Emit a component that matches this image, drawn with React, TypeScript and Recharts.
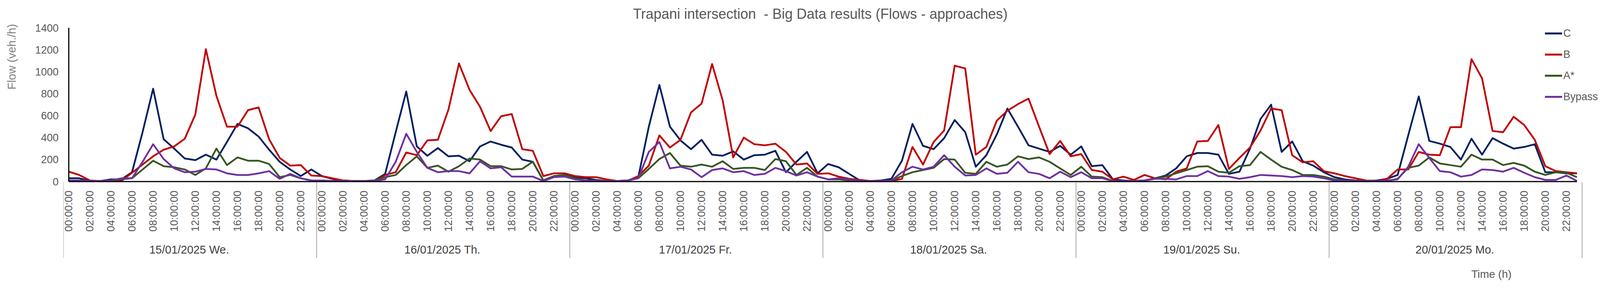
import { LineChart, Line, XAxis, YAxis } from "recharts";

const FONT = "'Liberation Sans', Arial, sans-serif";

const DAYS = ["15/01/2025 We.", "16/01/2025 Th.", "17/01/2025 Fr.", "18/01/2025 Sa.", "19/01/2025 Su.", "20/01/2025 Mo."];

const HOURS = [
  "00:00:00", "01:00:00", "02:00:00", "03:00:00", "04:00:00", "05:00:00",
  "06:00:00", "07:00:00", "08:00:00", "09:00:00", "10:00:00", "11:00:00",
  "12:00:00", "13:00:00", "14:00:00", "15:00:00", "16:00:00", "17:00:00",
  "18:00:00", "19:00:00", "20:00:00", "21:00:00", "22:00:00", "23:00:00",
];

const Y_TICKS = [0, 200, 400, 600, 800, 1000, 1200, 1400];

// one row per day, 24 hourly values (veh./h)
const C_FLOW = [
  [30, 30, 5, 5, 20, 20, 85, 450, 845, 385, 300, 210, 195, 245, 200, 360, 525, 485, 410, 290, 180, 110, 50, 110],
  [50, 25, 10, 5, 5, 10, 70, 450, 820, 320, 235, 305, 230, 235, 185, 320, 365, 335, 310, 200, 180, 10, 50, 60],
  [40, 30, 15, 5, 5, 10, 40, 500, 880, 500, 375, 295, 380, 245, 235, 275, 200, 240, 245, 280, 85, 180, 270, 75],
  [160, 130, 70, 10, 5, 10, 25, 190, 525, 325, 295, 395, 560, 450, 135, 240, 430, 665, 500, 330, 300, 270, 325, 245],
  [320, 140, 150, 20, 10, 5, 10, 30, 55, 120, 230, 260, 260, 245, 70, 90, 300, 570, 700, 270, 365, 185, 145, 85],
  [40, 20, 10, 5, 10, 25, 60, 420, 775, 370, 345, 315, 200, 390, 245, 395, 345, 300, 315, 340, 85, 85, 75, 75],
];

const B_FLOW = [
  [90, 60, 10, 5, 5, 5, 80, 155, 230, 290, 320, 390, 610, 1205, 780, 500, 500, 650, 675, 385, 215, 145, 150, 55],
  [50, 30, 10, 5, 5, 5, 60, 85, 265, 240, 375, 380, 655, 1075, 835, 680, 460, 595, 615, 295, 280, 50, 75, 75],
  [50, 40, 40, 20, 5, 5, 50, 145, 420, 310, 380, 630, 710, 1070, 740, 220, 400, 340, 330, 345, 270, 155, 165, 70],
  [75, 45, 25, 15, 5, 5, 5, 25, 315, 155, 360, 465, 1055, 1030, 245, 315, 555, 645, 705, 755, 500, 250, 370, 230],
  [250, 105, 90, 20, 45, 15, 60, 30, 20, 90, 120, 365, 370, 515, 115, 215, 310, 465, 665, 650, 240, 175, 185, 95],
  [75, 50, 30, 10, 5, 25, 110, 110, 270, 245, 240, 495, 495, 1115, 940, 460, 450, 590, 515, 380, 140, 95, 85, 75],
];

const A_FLOW = [
  [10, 10, 5, 5, 10, 20, 30, 110, 190, 140, 130, 110, 60, 120, 300, 150, 220, 190, 190, 160, 40, 60, 30, 10],
  [10, 5, 5, 5, 5, 10, 40, 60, 150, 230, 125, 145, 90, 140, 210, 200, 140, 140, 110, 115, 180, 10, 50, 60],
  [30, 10, 10, 5, 5, 10, 30, 115, 205, 260, 145, 135, 155, 135, 185, 115, 125, 125, 105, 205, 185, 60, 125, 45],
  [20, 20, 10, 5, 5, 5, 10, 50, 85, 105, 125, 205, 200, 80, 70, 180, 135, 155, 230, 205, 220, 180, 120, 60],
  [135, 45, 40, 5, 5, 5, 10, 30, 45, 75, 105, 135, 140, 90, 80, 140, 150, 270, 200, 135, 105, 60, 60, 45],
  [20, 10, 5, 5, 5, 5, 25, 125, 145, 220, 165, 150, 135, 245, 200, 200, 150, 170, 145, 90, 60, 85, 80, 40],
];

const BYPASS_FLOW = [
  [10, 10, 5, 5, 10, 30, 30, 180, 340, 205, 120, 85, 90, 115, 110, 75, 60, 60, 75, 95, 25, 70, 30, 10],
  [10, 5, 5, 5, 5, 5, 20, 180, 435, 270, 125, 85, 95, 95, 75, 185, 120, 130, 45, 45, 45, 5, 40, 45],
  [20, 10, 5, 5, 5, 10, 30, 270, 360, 120, 135, 110, 40, 105, 120, 85, 95, 60, 70, 125, 95, 55, 85, 45],
  [20, 30, 20, 5, 5, 5, 10, 85, 135, 110, 135, 240, 135, 55, 60, 120, 70, 80, 180, 85, 70, 30, 90, 40],
  [85, 30, 30, 5, 5, 5, 10, 25, 25, 20, 50, 50, 95, 50, 45, 25, 40, 60, 55, 50, 40, 50, 45, 30],
  [10, 10, 5, 5, 5, 10, 20, 135, 340, 215, 95, 85, 45, 60, 110, 105, 90, 125, 80, 40, 15, 15, 55, 5],
];

const SERIES = [
  { key: "C", name: "C", color: "#002060" },
  { key: "B", name: "B", color: "#C00000" },
  { key: "A", name: "A*", color: "#375623" },
  { key: "Bypass", name: "Bypass", color: "#7030A0" },
];

const data = DAYS.flatMap((_, d) =>
  HOURS.map((_, h) => ({
    slot: d * 24 + h,
    C: C_FLOW[d][h],
    B: B_FLOW[d][h],
    A: A_FLOW[d][h],
    Bypass: BYPASS_FLOW[d][h],
  }))
);

const W = 4132;
const H = 736;
const MARGIN = { top: 71, right: 95, bottom: 242, left: 116 };
const PLOT_W = W - 176 - MARGIN.right;
const BAND = PLOT_W / data.length;

function TimeTick(props: any) {
  const { x, y, payload } = props;
  const slot = Number(payload.value);
  const hour = slot % 24;
  const day = Math.floor(slot / 24);
  const edge = x - BAND / 2;
  const isLast = slot === data.length - 2;
  return (
    <g>
      <text
        transform={`translate(${x},${y + 23}) rotate(-90)`}
        textAnchor="end"
        dominantBaseline="central"
        fontSize={27}
        fontFamily={FONT}
        fill="#595959"
      >
        {HOURS[hour]}
      </text>
      {hour === 0 && (
        <>
          <line x1={edge} x2={edge} y1={y + 2} y2={y + 195} stroke={slot === 0 ? "#d0d0d0" : "#a6a6a6"} strokeWidth={2} />
          <text
            x={edge + 12 * BAND}
            y={y + 174}
            textAnchor="middle"
            dominantBaseline="central"
            fontSize={29}
            fontFamily={FONT}
            fill="#404040"
          >
            {DAYS[day]}
          </text>
        </>
      )}
      {isLast && (
        <line x1={x + 1.5 * BAND} x2={x + 1.5 * BAND} y1={y + 2} y2={y + 195} stroke="#a6a6a6" strokeWidth={2} />
      )}
    </g>
  );
}

function LegendBox() {
  return (
    <div style={{ position: "absolute", left: 3955, top: 58, fontFamily: FONT, whiteSpace: "nowrap" }}>
      {SERIES.map((s) => (
        <div key={s.key} style={{ display: "flex", alignItems: "center", height: 54 }}>
          <div style={{ width: 44, height: 5, background: s.color, flex: "none" }} />
          <span style={{ fontSize: 27, color: "#595959", marginLeft: 3, lineHeight: "30px" }}>{s.name}</span>
        </div>
      ))}
    </div>
  );
}

export default function App() {
  return (
    <div style={{ position: "absolute", left: 0, top: 0, width: W, height: H, background: "#fff", overflow: "hidden" }}>
      <LineChart width={W} height={H} data={data} margin={MARGIN} style={{ fontFamily: FONT }}>
        <XAxis
          dataKey="slot"
          type="category"
          interval={1}
          tickSize={0}
          tickMargin={0}
          tickLine={false}
          axisLine={{ stroke: "#000", strokeWidth: 3 }}
          tick={(p: any) => <TimeTick {...p} />}
        />
        <YAxis
          domain={[0, 1400]}
          ticks={Y_TICKS}
          tickLine={false}
          tickSize={0}
          tickMargin={26}
          axisLine={{ stroke: "#000", strokeWidth: 3 }}
          tick={{ fontSize: 27, fill: "#595959", fontFamily: FONT }}
        />
        {SERIES.map((s) => (
          <Line
            key={s.key}
            dataKey={s.key}
            name={s.name}
            stroke={s.color}
            strokeWidth={4.5}
            strokeLinejoin="round"
            dot={false}
            type="linear"
            isAnimationActive={false}
          />
        ))}
      </LineChart>
      <LegendBox />
      <svg width={W} height={H} style={{ position: "absolute", left: 0, top: 0, pointerEvents: "none" }}>
        <text x={2100} y={48} textAnchor="middle" fontSize={36} fontFamily={FONT} fill="#595959" style={{ whiteSpace: "pre" }}>
          Trapani intersection  - Big Data results (Flows - approaches)
        </text>
        <text
          transform="translate(30,145) rotate(-90)"
          textAnchor="middle"
          dominantBaseline="central"
          fontSize={29}
          fontFamily={FONT}
          fill="#7f7f7f"
        >
          Flow (veh./h)
        </text>
        <text x={3818} y={700} textAnchor="middle" dominantBaseline="central" fontSize={28} fontFamily={FONT} fill="#595959">
          Time (h)
        </text>
      </svg>
    </div>
  );
}
